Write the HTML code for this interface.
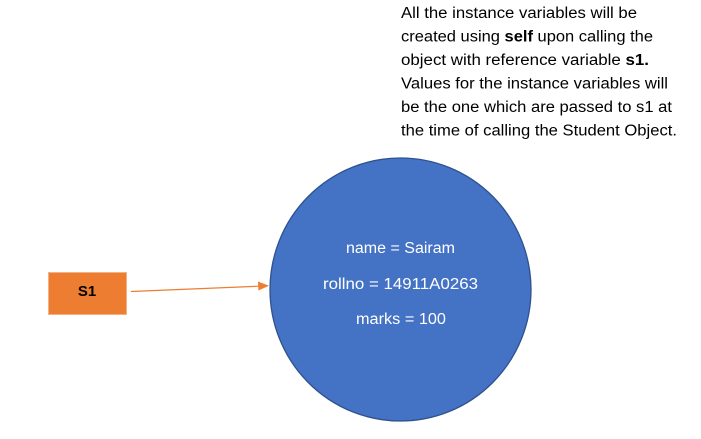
<!DOCTYPE html>
<html><head><meta charset="utf-8"><style>html,body{margin:0;padding:0;background:#fff}svg{display:block}</style></head>
<body>
<svg width="701" height="439" viewBox="0 0 701 439" xmlns="http://www.w3.org/2000/svg" font-family="Liberation Sans, sans-serif">
<g font-size="15.5" fill="#000">
<text x="401" y="18" textLength="236" lengthAdjust="spacingAndGlyphs">All the instance variables will be</text>
<text x="401" y="41.5" textLength="252" lengthAdjust="spacingAndGlyphs">created using <tspan font-weight="bold">self</tspan> upon calling the</text>
<text x="401" y="65" textLength="248" lengthAdjust="spacingAndGlyphs">object with reference variable <tspan font-weight="bold">s1.</tspan></text>
<text x="401" y="88.5" textLength="267" lengthAdjust="spacingAndGlyphs">Values for the instance variables will</text>
<text x="401" y="112" textLength="271" lengthAdjust="spacingAndGlyphs">be the one which are passed to s1 at</text>
<text x="401" y="135.5" textLength="276" lengthAdjust="spacingAndGlyphs">the time of calling the Student Object.</text>
</g>
<ellipse cx="400.5" cy="289.5" rx="130.5" ry="131.5" fill="#4472C4" stroke="#2F528F" stroke-width="1.3"/>
<g font-size="15.5" fill="#fff">
<text x="346" y="253" textLength="109" lengthAdjust="spacingAndGlyphs">name = Sairam</text>
<text x="323" y="289" textLength="155" lengthAdjust="spacingAndGlyphs">rollno = 14911A0263</text>
<text x="356" y="324" textLength="90" lengthAdjust="spacingAndGlyphs">marks = 100</text>
</g>
<rect x="48.5" y="272.5" width="78" height="42" fill="#ED7D31" stroke="#F4B183" stroke-width="1"/>
<text x="87" y="296" font-size="15" font-weight="bold" text-anchor="middle" fill="#000">S1</text>
<line x1="131" y1="291.5" x2="259" y2="286.2" stroke="#ED7D31" stroke-width="1.2"/>
<polygon points="269,285.8 258,281.5 258.4,290.5" fill="#ED7D31"/>
</svg>
</body></html>
